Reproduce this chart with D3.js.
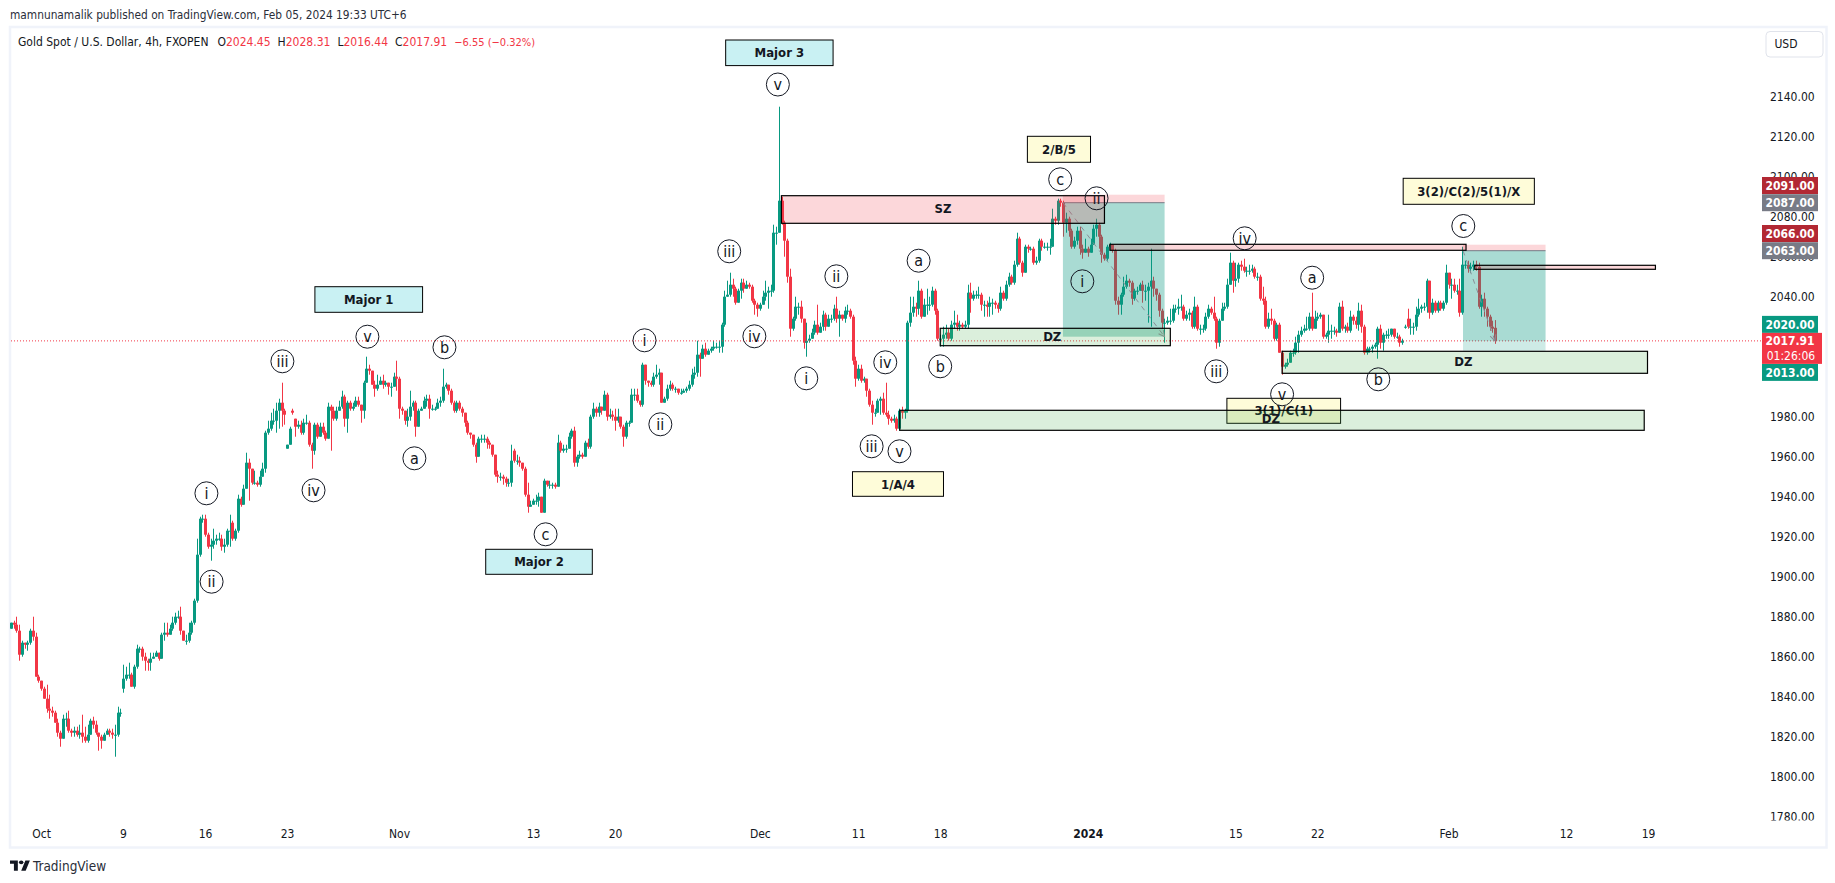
<!DOCTYPE html>
<html>
<head>
<meta charset="utf-8">
<script src="https://cdn.jsdelivr.net/npm/d3@7"></script>
<style>
  body { margin: 0; background: #fff; }
  text { font-family: "DejaVu Sans Condensed", "DejaVu Sans", sans-serif; }
</style>
</head>
<body>
<script>
/*
------------------------------
DATA: 4h candles
------------------------------
*/
const closes = [
  1877,1876,1873,1861,1867,1866,1867,1873,1870,1850, 1848,1844,1839,1834,1833,1832,1827,1822,1819,1829,
  1829,1823,1822,1823,1821,1822,1820,1818,1821,1828, 1826,1822,1820,1818,1821,1823,1822,1821,1821,1832,
  1832,1849,1851,1851,1845,1855,1864,1864,1860,1858, 1857,1859,1860,1862,1859,1871,1872,1871,1874,1877,
  1880,1880,1873,1868,1868,1872,1877,1888,1911,1929, 1929,1921,1915,1916,1918,1919,1919,1915,1916,1923,
  1923,1919,1923,1939,1936,1944,1957,1954,1947,1947, 1946,1950,1954,1972,1974,1978,1978,1983,1987,1983,
  1981,1966,1974,1982,1975,1976,1972,1977,1977,1966, 1963,1976,1970,1975,1972,1969,1985,1983,1979,1983,
  1985,1990,1979,1987,1984,1985,1988,1986,1983,1997, 2004,2003,1996,1994,1996,1998,1996,1997,1995,1995,
  2000,1999,1984,1983,1978,1980,1985,1987,1975,1983, 1984,1988,1989,1984,1984,1984,1987,1988,1995,1996,
  1993,1987,1983,1987,1984,1982,1977,1972,1971,1966, 1960,1969,1969,1969,1967,1966,1961,1951,1950,1950,
  1949,1947,1947,1958,1958,1958,1957,1954,1941,1935, 1936,1938,1938,1940,1932,1948,1946,1946,1946,1945,
  1967,1963,1964,1964,1970,1973,1957,1960,1961,1960, 1967,1965,1980,1984,1982,1985,1983,1991,1980,1981,
  1980,1978,1980,1975,1970,1977,1977,1991,1991,1988, 1986,2006,1998,1997,1996,2000,2001,2002,1987,1989,
  1994,1996,1994,1994,1992,1992,1993,1994,1996,2001, 2002,2011,2009,2014,2011,2013,2014,2015,2015,2015,
  2026,2040,2041,2046,2044,2037,2043,2047,2044,2046, 2045,2038,2036,2034,2036,2040,2042,2043,2043,2072,
  2072,2088,2077,2068,2050,2024,2029,2035,2035,2029, 2017,2018,2019,2022,2026,2022,2025,2031,2025,2029,
  2029,2034,2029,2031,2029,2033,2033,2030,2008,1999, 2004,1998,1999,1993,1986,1982,1982,1988,1989,1982,
  1981,1979,1978,1979,1974,1983,1982,1983,2027,2032, 2035,2034,2043,2030,2036,2036,2036,2043,2033,2019,
  2019,2021,2022,2019,2026,2027,2025,2026,2025,2026, 2042,2039,2041,2041,2041,2036,2036,2035,2037,2037,
  2036,2034,2042,2039,2046,2050,2047,2056,2069,2057, 2052,2065,2064,2064,2057,2058,2068,2065,2065,2065,
  2065,2079,2078,2088,2087,2077,2079,2073,2065,2068, 2073,2064,2062,2064,2062,2066,2074,2076,2070,2061,
  2059,2065,2066,2063,2038,2036,2041,2045,2048,2047, 2039,2043,2043,2046,2043,2043,2045,2048,2044,2041,
  2033,2027,2027,2028,2028,2034,2034,2035,2035,2029, 2031,2032,2025,2035,2024,2024,2024,2030,2034,2032,
  2029,2017,2028,2034,2035,2046,2057,2048,2049,2056, 2055,2053,2053,2053,2054,2050,2050,2039,2038,2025,
  2029,2028,2019,2026,2012,2005,2006,2007,2012,2012, 2017,2021,2023,2024,2024,2030,2024,2029,2030,2031,
  2020,2021,2023,2023,2023,2022,2035,2024,2025,2023, 2030,2028,2026,2033,2025,2012,2014,2014,2015,2016,
  2024,2017,2021,2021,2021,2024,2020,2020,2017,2018, 2025,2025,2025,2025,2031,2034,2035,2035,2048,2032,
  2037,2033,2037,2034,2037,2052,2046,2046,2043,2043, 2032,2056,2056,2054,2055,2056,2055,2035,2039,2034,
  2030,2025,2024,2017.91
]
const highs = [
  1877,1878,1880,1876,1868,1867,1868,1874,1880,1872, 1851,1848,1845,1846,1841,1835,1833,1829,1823,1831,
  1832,1833,1824,1825,1825,1826,1831,1825,1826,1829, 1830,1828,1822,1821,1822,1824,1824,1824,1826,1835,
  1834,1856,1855,1857,1852,1856,1866,1865,1865,1862, 1859,1862,1862,1863,1862,1872,1877,1877,1876,1880,
  1882,1883,1885,1873,1871,1877,1878,1889,1919,1930, 1931,1931,1922,1919,1924,1921,1922,1921,1919,1924,
  1931,1928,1924,1941,1940,1946,1962,1959,1953,1953, 1948,1953,1957,1973,1978,1982,1984,1987,1989,1997,
  1984,1966,1975,1984,1979,1978,1978,1979,1981,1978, 1967,1977,1977,1977,1977,1973,1987,1986,1985,1985,
  1988,1993,1991,1988,1988,1987,1990,1990,1986,1998, 2010,2006,2003,1998,2001,2000,2001,1998,1996,1997,
  2002,2008,2000,1985,1983,1984,1993,1988,1988,1984, 1985,1990,1991,1991,1986,1985,1989,1990,2004,1997,
  1996,1994,1988,1988,1988,1985,1982,1978,1972,1971, 1967,1970,1971,1971,1970,1968,1966,1961,1953,1952,
  1951,1950,1949,1966,1964,1961,1960,1957,1955,1947, 1938,1939,1941,1942,1940,1949,1948,1948,1947,1947,
  1971,1968,1966,1966,1972,1974,1975,1961,1963,1962, 1968,1969,1981,1987,1985,1987,1985,1993,1992,1984,
  1983,1984,1984,1980,1976,1978,1978,1994,1994,1994, 1988,2007,2006,1998,1998,2002,2006,2004,2002,1990,
  1996,1998,1997,1995,1994,1994,1994,1995,1998,2004, 2005,2018,2012,2016,2017,2014,2015,2018,2017,2018,
  2027,2043,2048,2052,2049,2045,2044,2049,2049,2048, 2047,2046,2039,2037,2037,2043,2048,2045,2046,2076,
  2075,2135,2090,2078,2069,2054,2030,2040,2037,2038, 2029,2027,2021,2024,2028,2036,2027,2033,2032,2031,
  2031,2036,2040,2033,2031,2035,2036,2034,2031,2010, 2006,2006,2000,1999,1994,1988,1984,1989,1990,1992,
  1997,1983,1980,1981,1980,1984,1985,1984,2028,2040, 2040,2037,2048,2044,2039,2044,2040,2045,2044,2034,
  2021,2025,2026,2024,2028,2033,2031,2028,2027,2028, 2046,2047,2043,2043,2045,2042,2038,2038,2040,2039,
  2038,2037,2045,2043,2048,2052,2051,2058,2072,2070, 2058,2066,2066,2065,2065,2060,2069,2069,2067,2067,
  2069,2084,2080,2089,2089,2088,2082,2080,2074,2070, 2075,2075,2066,2069,2065,2069,2076,2079,2077,2071,
  2062,2066,2067,2066,2064,2040,2042,2050,2051,2049, 2048,2044,2045,2047,2048,2046,2047,2064,2050,2044,
  2042,2034,2029,2030,2034,2036,2036,2039,2041,2036, 2033,2034,2033,2040,2036,2026,2026,2032,2036,2035,
  2040,2030,2029,2037,2037,2049,2062,2058,2057,2057, 2058,2059,2055,2056,2056,2055,2052,2051,2045,2040,
  2032,2034,2029,2027,2027,2013,2007,2009,2013,2014, 2020,2023,2025,2026,2030,2032,2042,2033,2032,2032,
  2031,2022,2031,2026,2025,2024,2037,2038,2026,2027, 2033,2031,2030,2037,2036,2026,2015,2015,2016,2017,
  2025,2026,2022,2023,2024,2024,2024,2022,2021,2019, 2026,2034,2029,2027,2035,2039,2036,2037,2049,2048,
  2039,2038,2038,2038,2038,2056,2052,2049,2049,2046, 2049,2065,2058,2058,2057,2058,2058,2057,2041,2042,
  2035,2031,2028,2028.31
]
const lows = [
  1874,1874,1872,1858,1860,1864,1863,1866,1868,1850, 1847,1843,1839,1832,1829,1830,1827,1820,1815,1819,
  1825,1822,1820,1820,1820,1819,1817,1817,1817,1821, 1824,1821,1813,1814,1819,1821,1820,1819,1810,1820,
  1830,1842,1848,1849,1845,1844,1854,1862,1858,1853, 1853,1853,1859,1860,1858,1859,1868,1870,1871,1873,
  1876,1879,1871,1868,1866,1867,1871,1876,1887,1910, 1927,1920,1914,1908,1914,1916,1918,1913,1912,1915,
  1915,1918,1918,1922,1935,1936,1944,1938,1946,1946, 1945,1945,1950,1952,1971,1973,1976,1972,1974,1975,
  1976,1964,1966,1981,1970,1974,1971,1971,1976,1965, 1954,1961,1969,1970,1971,1968,1969,1963,1978,1978,
  1983,1984,1975,1972,1983,1983,1985,1985,1977,1979, 1997,2001,1996,1990,1993,1996,1994,1995,1991,1990,
  1995,1993,1979,1981,1976,1975,1978,1983,1970,1975, 1983,1984,1985,1979,1983,1983,1984,1985,1987,1994,
  1991,1986,1982,1982,1983,1980,1975,1971,1969,1965, 1957,1960,1967,1967,1964,1964,1960,1950,1947,1948,
  1946,1945,1945,1945,1957,1956,1955,1953,1940,1932, 1935,1936,1936,1935,1932,1932,1945,1944,1944,1944,
  1946,1962,1962,1962,1964,1969,1955,1955,1959,1959, 1960,1964,1964,1979,1980,1980,1981,1983,1978,1979,
  1978,1973,1977,1974,1965,1969,1975,1977,1988,1987, 1985,1985,1996,1995,1995,1995,1999,1996,1987,1987,
  1988,1993,1993,1992,1991,1991,1992,1992,1993,1995, 1999,2000,2000,2009,2010,2011,2012,2013,2014,2012,
  2012,2025,2040,2040,2040,2036,2037,2039,2042,2044, 2044,2037,2031,2030,2033,2036,2038,2034,2040,2042,
  2066,2072,2076,2060,2047,2020,2023,2028,2031,2027, 2014,2010,2017,2020,2021,2021,2022,2023,2023,2026,
  2027,2028,2027,2020,2028,2027,2031,2029,2006,1995, 1998,1997,1997,1990,1985,1976,1980,1982,1981,1981,
  1980,1976,1977,1977,1973,1973,1979,1979,1982,2025, 2030,2030,2031,2029,2030,2031,2033,2035,2031,2018,
  2015,2015,2019,2018,2018,2024,2023,2023,2024,2024, 2024,2032,2038,2039,2039,2033,2030,2030,2030,2031,
  2034,2032,2033,2038,2038,2045,2046,2046,2055,2056, 2050,2052,2062,2063,2056,2056,2057,2063,2064,2063,
  2061,2066,2076,2076,2085,2070,2072,2070,2064,2064, 2066,2061,2059,2062,2060,2062,2066,2070,2064,2057,
  2058,2058,2063,2062,2036,2031,2031,2040,2044,2045, 2036,2038,2041,2043,2037,2038,2027,2025,2040,2038,
  2030,2024,2017,2026,2026,2027,2032,2031,2033,2028, 2028,2028,2024,2024,2023,2021,2022,2023,2029,2031,
  2028,2014,2015,2028,2033,2034,2046,2042,2045,2047, 2053,2052,2050,2051,2052,2049,2048,2038,2036,2024,
  2024,2026,2018,2018,2012,2001,2004,2005,2007,2010, 2011,2012,2020,2022,2023,2023,2023,2025,2028,2029,
  2019,2019,2017,2019,2021,2020,2022,2023,2022,2022, 2022,2026,2024,2023,2022,2011,2011,2012,2012,2014,
  2009,2014,2013,2019,2019,2020,2019,2019,2015,2016, 2024,2024,2021,2021,2023,2030,2032,2033,2032,2029,
  2031,2032,2032,2033,2033,2036,2044,2039,2042,2041, 2030,2031,2054,2052,2052,2053,2053,2034,2030,2030,
  2025,2023,2022,2016.44
]
// bars whose open is not the previous close (weekend gaps and the like)
const gapBars = [0, 41, 81, 101, 103, 104, 184, 510, 511, 543]
const gapOpens = [1874, 1844, 1927, 1964, 1983, 1979, 1963, 2025, 2029, 2024.45]

const lastPrice = 2017.91
const priceTicks = [2140,2120,2100,2080,2060,2040,1980,1960,1940,1920,1900,1880,1860,1840,1820,1800,1780]
const timeTickBars = [11, 41, 71, 101, 142, 191, 221, 274, 310, 340, 394, 448, 478, 526, 569, 599]
const timeTickLabels = ["Oct", "9", "16", "23", "Nov", "13", "20", "Dec", "11", "18", "2024", "15", "22", "Feb", "12", "19"]

// supply / demand zones
const zoneNames = ["SZ", "", "", "DZ", "DZ", "DZ"]
const zoneStart = [281.9, 402.1, 535.6, 340, 465.1, 325.2]
const zoneEnd = [400.1, 532.4, 601.7, 424.2, 598.8, 597.6]
const zoneTop = [2090.5, 2066.2, 2055.7, 2024.2, 2012.7, 1983.2]
const zoneBottom = [2076.7, 2063.2, 2053.7, 2015.5, 2001.7, 1973.2]
const zoneKinds = ["supply", "supply", "supply", "demand", "demand", "demand"]
const zoneTextBar = [341, 0, 0, 381, 531.4, 461]
const zoneTextPrice = [2084, 0, 0, 2020, 2007.5, 1979]

// short position tools
const tradeStart = [384.9, 531.3]
const tradeEnd = [422.1, 561.5]
const tradeStop = [2091, 2066]
const tradeEntry = [2087, 2063]
const tradeTarget = [2020, 2013]
const tradeExitBar = [422.1, 543]
const tradeExitPrice = [2020, 2017.91]

// wave count boxes
const boxNames = ["Major 3", "Major 1", "Major 2", "1/A/4", "2/B/5", "3(2)/C(2)/5(1)/X", "3(1)/C(1)"]
const boxKinds = ["major", "major", "major", "minor", "minor", "minor", "minor"]
const boxStart = [261.5, 111.2, 173.7, 307.9, 371.9, 509.4, 444.9]
const boxEnd = [300.8, 150.6, 212.7, 341.2, 395, 557.4, 486.5]
const boxTop = [2168.35, 2045, 1913.7, 1952.5, 2120.2, 2099.2, 1989.2]
const boxBottom = [2155.55, 2032.2, 1901.2, 1940.2, 2107.2, 2086.2, 1976.7]

// circled wave labels
const waveNames = ["i","ii","iii","iv","v","a","b","c","i","ii","iii","iv","v","i","ii","iii","iv","v","a","b","c","i","ii","iii","iv","v","a","b","c"]
const waveBars = [71.5,73.4,99.3,110.7,130.4,147.6,158.6,195.6,231.8,237.6,262.8,272,280.6,291,302,314.9,319.9,325.1,332.1,340,383.9,392,397.2,441,451.4,465.1,476.1,500.3,531.4]
const wavePrices = [1941.7,1897.5,2007.7,1943.2,2020,1959.2,2014.7,1921.2,2018.2,1976.2,2062.7,2020.2,2146.1,1999.2,2050.2,1965.2,2007.2,1962.7,2058,2005.2,2098.7,2047.7,2089.2,2002.7,2069.2,1991.2,2049.5,1998.7,2075.35]

/*
------------------------------
METHOD: scales and canvas
------------------------------
*/
const width = 1835
const height = 883
const green = "#089981"
const red = "#f23645"
const ink = "#131722"

const x = d3.scaleLinear().domain([0, 543]).range([11, 1495])
const y = d3.scaleLinear().domain([2140, 1780]).range([96.7, 816.7])

const svg = d3.select("body").append("svg")
  .attr("width", width)
  .attr("height", height)
  .style("display", "block")

svg.append("marker").attr("id", "arrow")
  .attr("viewBox", "0 0 8 8").attr("refX", 7).attr("refY", 4)
  .attr("markerWidth", 8).attr("markerHeight", 8).attr("orient", "auto")
  .append("path").attr("d", "M1,1L7,4L1,7").attr("fill", "none").attr("stroke", "#8a8d96").attr("stroke-width", 1)

// header
svg.append("text").attr("x", 10).attr("y", 19)
  .attr("font-size", 11.8).attr("fill", "#2a2e39")
  .text("mamnunamalik published on TradingView.com, Feb 05, 2024 19:33 UTC+6")

// chart frame
svg.append("rect").attr("x", 10).attr("y", 27).attr("width", 1816.5).attr("height", 820.5)
  .attr("fill", "none").attr("stroke", "#f0f3fa").attr("stroke-width", 2.5)

const legend = svg.append("text").attr("x", 18).attr("y", 46).attr("font-size", 12).attr("fill", ink)
legend.append("tspan").text("Gold Spot / U.S. Dollar, 4h, FXOPEN")
const legendParts = [["O", "2024.45"], ["H", "2028.31"], ["L", "2016.44"], ["C", "2017.91"]]
legendParts.forEach(function(p, i) {
  legend.append("tspan").attr("dx", i === 0 ? 9 : 7).text(p[0])
  legend.append("tspan").attr("fill", red).text(p[1])
})
legend.append("tspan").attr("fill", red).attr("dx", 7).attr("font-size", 11).text("\u22126.55 (\u22120.32%)")

/*
------------------------------
METHOD: candles
------------------------------
*/
const bars = closes.map(function(c, i) {
  const g = gapBars.indexOf(i)
  const o = g >= 0 ? gapOpens[g] : closes[i - 1]
  return {
    i: i,
    o: o,
    c: c,
    h: Math.max(highs[i], o, c),
    l: Math.min(lows[i], o, c),
  }
})

const candles = svg.append("g").selectAll("g").data(bars).join("g")
  .attr("fill", d => d.c >= d.o ? green : red)

candles.append("rect")
  .attr("x", d => Math.round(x(d.i)))
  .attr("width", 1)
  .attr("y", d => y(d.h))
  .attr("height", d => y(d.l) - y(d.h))

candles.append("rect")
  .attr("x", d => Math.round(x(d.i)) - 1)
  .attr("width", 3)
  .attr("y", d => y(Math.max(d.o, d.c)))
  .attr("height", d => Math.max(1, Math.abs(y(d.o) - y(d.c))))

/*
------------------------------
METHOD: last price line
------------------------------
*/
svg.append("line")
  .attr("x1", 11).attr("x2", 1762)
  .attr("y1", y(lastPrice)).attr("y2", y(lastPrice))
  .attr("stroke", red).attr("stroke-width", 1).attr("stroke-dasharray", "1 2")

/*
------------------------------
METHOD: position tools
------------------------------
*/
tradeStart.forEach(function(s, i) {
  const g = svg.append("g")
  const x0 = x(s), w = x(tradeEnd[i]) - x0
  g.append("rect").attr("x", x0).attr("width", w)
    .attr("y", y(tradeStop[i])).attr("height", y(tradeEntry[i]) - y(tradeStop[i]))
    .attr("fill", red).attr("fill-opacity", 0.2)
  g.append("rect").attr("x", x0).attr("width", w)
    .attr("y", y(tradeEntry[i])).attr("height", y(tradeExitPrice[i]) - y(tradeEntry[i]))
    .attr("fill", green).attr("fill-opacity", 0.35)
  g.append("rect").attr("x", x0).attr("width", w)
    .attr("y", y(tradeExitPrice[i])).attr("height", y(tradeTarget[i]) - y(tradeExitPrice[i]))
    .attr("fill", green).attr("fill-opacity", 0.2)
  g.append("line").attr("x1", x0).attr("x2", x0 + w)
    .attr("y1", y(tradeEntry[i])).attr("y2", y(tradeEntry[i]))
    .attr("stroke", "#787b86").attr("stroke-width", 1)
  g.append("line")
    .attr("x1", x0).attr("y1", y(tradeEntry[i]))
    .attr("x2", x(tradeExitBar[i])).attr("y2", y(tradeExitPrice[i]))
    .attr("stroke", "#8a8d96").attr("stroke-width", 1).attr("stroke-dasharray", "5 5")
    .attr("marker-end", "url(#arrow)")
})

/*
------------------------------
METHOD: wave boxes, then zones on top of them
------------------------------
*/
const boxFill = { major: "#c9f1f3", minor: "#fefcd9" }
boxNames.forEach(function(name, i) {
  const b = svg.append("g")
  b.append("rect")
    .attr("x", x(boxStart[i])).attr("width", x(boxEnd[i]) - x(boxStart[i]))
    .attr("y", y(boxTop[i])).attr("height", y(boxBottom[i]) - y(boxTop[i]))
    .attr("fill", boxFill[boxKinds[i]]).attr("stroke", "#000").attr("stroke-width", 1)
  b.append("text")
    .attr("x", (x(boxStart[i]) + x(boxEnd[i])) / 2)
    .attr("y", (y(boxTop[i]) + y(boxBottom[i])) / 2)
    .attr("dy", "0.35em").attr("text-anchor", "middle")
    .attr("font-size", 13).attr("font-weight", "bold").attr("fill", ink)
    .text(name)
})

const zoneFill = { supply: "#f23645", demand: "#4caf50" }
zoneNames.forEach(function(name, i) {
  const z = svg.append("g")
  z.append("rect")
    .attr("x", x(zoneStart[i])).attr("width", x(zoneEnd[i]) - x(zoneStart[i]))
    .attr("y", y(zoneTop[i])).attr("height", y(zoneBottom[i]) - y(zoneTop[i]))
    .attr("fill", zoneFill[zoneKinds[i]]).attr("fill-opacity", 0.2)
    .attr("stroke", "#000").attr("stroke-width", 1.2)
  if (name) {
    z.append("text")
      .attr("x", x(zoneTextBar[i])).attr("y", y(zoneTextPrice[i]))
      .attr("dy", "0.35em").attr("text-anchor", "middle")
      .attr("font-size", 13).attr("font-weight", "bold").attr("fill", ink)
      .text(name)
  }
})

/*
------------------------------
METHOD: circled wave labels
------------------------------
*/
const waves = svg.append("g").selectAll("g").data(waveNames).join("g")
  .attr("transform", (d, i) => `translate(${x(waveBars[i])},${y(wavePrices[i])})`)

waves.append("circle").attr("r", 11.5)
  .attr("fill", "none").attr("stroke", ink).attr("stroke-width", 1)

waves.append("text")
  .attr("dy", "0.33em").attr("text-anchor", "middle")
  .attr("font-size", 16).attr("fill", ink)
  .text(d => d)

/*
------------------------------
METHOD: axes
------------------------------
*/
const yAxis = d3.axisRight(y).tickValues(priceTicks).tickSize(0).tickPadding(0).tickFormat(d3.format(".2f"))
const yAxisG = svg.append("g")
  .attr("transform", "translate(1770,0)")
  .call(yAxis)
yAxisG.select(".domain").remove()
yAxisG.selectAll("text").attr("font-size", 12).attr("fill", ink)
  .style("font-family", "\"DejaVu Sans Condensed\", \"DejaVu Sans\", sans-serif")

// the lowest tick is cut by the scale's edge
svg.append("rect").attr("x", 1765).attr("y", 820.5).attr("width", 55).attr("height", 14).attr("fill", "#fff")

const xAxis = d3.axisBottom(x).tickValues(timeTickBars).tickSize(0).tickPadding(0)
  .tickFormat((d, i) => timeTickLabels[i])
const xAxisG = svg.append("g")
  .attr("transform", "translate(0,829)")
  .call(xAxis)
xAxisG.select(".domain").remove()
xAxisG.selectAll("text").attr("font-size", 12).attr("fill", ink)
  .attr("font-weight", d => d === 394 ? "bold" : null)
  .style("font-family", "\"DejaVu Sans Condensed\", \"DejaVu Sans\", sans-serif")

/*
------------------------------
METHOD: price scale tags and currency button
------------------------------
*/
const tagStep = 17.2
const tags = [
  { text: "2091.00", fill: "#b22833", cy: y(2087) - tagStep },
  { text: "2087.00", fill: "#787b86", cy: y(2087) },
  { text: "2066.00", fill: "#b22833", cy: y(2063) - tagStep },
  { text: "2063.00", fill: "#787b86", cy: y(2063) },
  { text: "2020.00", fill: green, cy: y(lastPrice) + 7.5 - 15.5 - 8.5 },
  { text: "2013.00", fill: green, cy: y(lastPrice) + 7.5 + 15.5 + 8.5 },
]
tags.forEach(function(t) {
  svg.append("rect").attr("x", 1762).attr("width", 56).attr("y", t.cy - 8.5).attr("height", 17)
    .attr("fill", t.fill)
  svg.append("text").attr("x", 1790).attr("y", t.cy).attr("dy", "0.36em").attr("text-anchor", "middle")
    .attr("font-size", 12).attr("font-weight", "bold").attr("fill", "#fff").text(t.text)
})
svg.append("rect").attr("x", 1762).attr("width", 60).attr("y", y(lastPrice) - 8).attr("height", 31)
  .attr("fill", red)
svg.append("text").attr("x", 1790).attr("y", y(lastPrice)).attr("dy", "0.36em").attr("text-anchor", "middle")
  .attr("font-size", 12).attr("font-weight", "bold").attr("fill", "#fff").text("2017.91")
svg.append("text").attr("x", 1791).attr("y", y(lastPrice) + 15).attr("dy", "0.36em").attr("text-anchor", "middle")
  .attr("font-size", 12).attr("fill", "#fff").text("01:26:06")

svg.append("rect").attr("x", 1766).attr("y", 31.5).attr("width", 57).attr("height", 25.5).attr("rx", 4)
  .attr("fill", "#fff").attr("stroke", "#e0e3eb")
svg.append("text").attr("x", 1786).attr("y", 44).attr("dy", "0.36em").attr("text-anchor", "middle")
  .attr("font-size", 12).attr("fill", ink).text("USD")

/*
------------------------------
METHOD: footer logo
------------------------------
*/
const logo = svg.append("g").attr("transform", "translate(10,858.5) scale(0.56,0.47)").attr("fill", ink)
logo.append("path").attr("d", "M14 26H7V11H0V4h14v22zM28 26h-8l7.5-22h8L28 26z")
logo.append("circle").attr("cx", 20).attr("cy", 8).attr("r", 4)
svg.append("text").attr("x", 33).attr("y", 871)
  .attr("font-size", 13.5).attr("fill", "#2a2e39").text("TradingView")
</script>
</body>
</html>
